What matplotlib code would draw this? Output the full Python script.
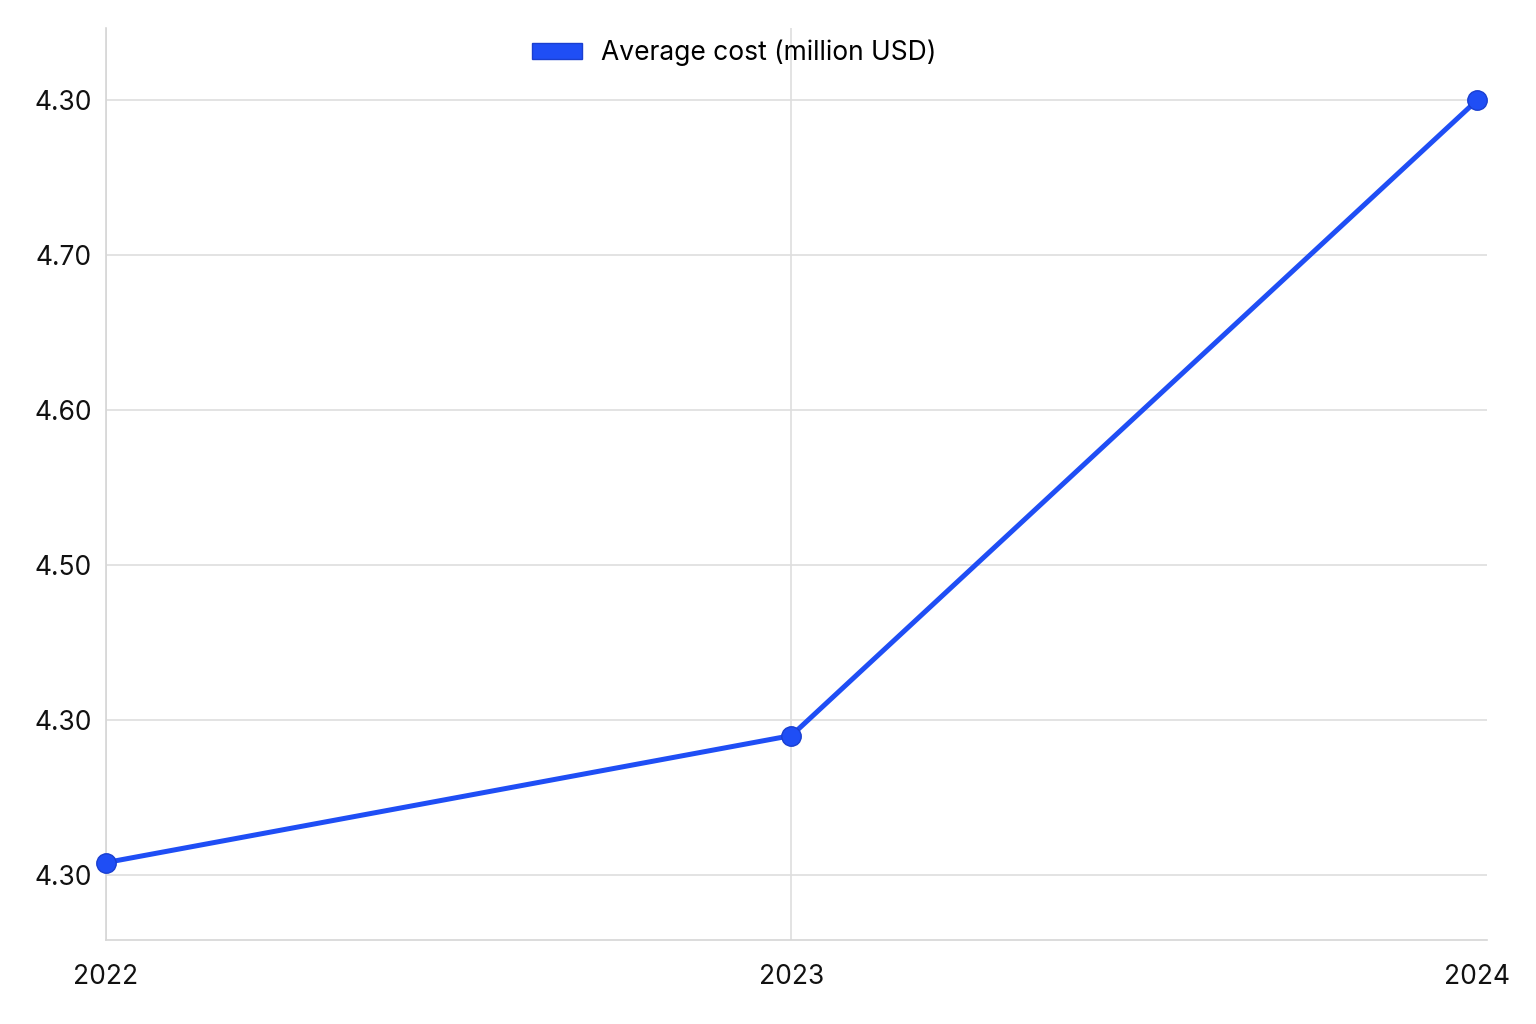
import matplotlib
matplotlib.use('Agg')
import matplotlib.pyplot as plt
import matplotlib.patches as mpatches

years = ["2022", "2023", "2024"]
avg_cost = [4.308, 4.390, 4.800]
y_ticks = [4.30, 4.40, 4.50, 4.60, 4.70, 4.80]
y_tick_labels = ["4.30", "4.30", "4.50", "4.60", "4.70", "4.30"]

plt.rcParams['font.family'] = ['Inter', 'DejaVu Sans']

blue = '#1f4ef5'
grid_col = '#dedede'

fig = plt.figure(figsize=(15.36, 10.24), dpi=100)
ax = fig.add_axes([0.069, 0.082, 0.899, 0.891])

x = list(range(len(years)))
ax.plot(x, avg_cost, color=blue, linewidth=3.6, marker='o', markersize=14,
        markerfacecolor=blue, markeredgecolor='#1a3fd0', markeredgewidth=1, zorder=3,
        solid_capstyle='round', clip_on=False)

ax.set_xlim(0, 2.0146)
ax.set_ylim(4.258, 4.847)
ax.set_xticks(x)
ax.set_xticklabels(years)
ax.set_yticks(y_ticks)
ax.set_yticklabels(y_tick_labels)

ax.tick_params(axis='both', length=0, labelsize=19, colors='#111111')
ax.tick_params(axis='x', pad=17)
ax.tick_params(axis='y', pad=10)

ax.grid(True, axis='y', color=grid_col, linewidth=1.2, zorder=0)
ax.grid(True, axis='x', color=grid_col, linewidth=1.2, zorder=0)
ax.xaxis.get_gridlines()[-1].set_visible(False)

for side in ['top', 'right']:
    ax.spines[side].set_visible(False)
for side in ['left', 'bottom']:
    ax.spines[side].set_color('#d6d6d6')
    ax.spines[side].set_linewidth(1.2)

handle = mpatches.Patch(facecolor=blue, edgecolor='#1a3fd0', label='Average cost (million USD)')
ax.legend(handles=[handle], loc='upper center', bbox_to_anchor=(0.455, 1.013),
          frameon=False, fontsize=19, handlelength=1.9, handleheight=0.55, handletextpad=0.7)

fig.savefig('out.png', dpi=100, facecolor='white')
